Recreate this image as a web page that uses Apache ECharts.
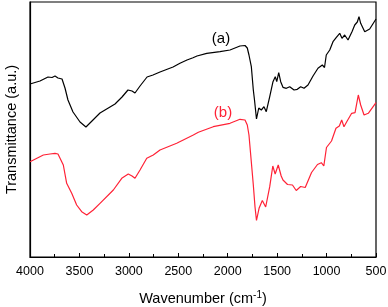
<!DOCTYPE html>
<html>
<head>
<meta charset="utf-8">
<script src="https://cdn.jsdelivr.net/npm/echarts@6/dist/echarts.min.js"></script>
<style>html,body{margin:0;padding:0;background:#fff}#c{width:388px;height:307px}</style>
</head>
<body>
<div id="c"></div>
<script>
// Wavenumber (cm-1) and transmittance (a.u.)
const wnA = [4000,3899,3818,3777,3747,3717,3676,3646,3616,3565,3494,3434,3363,3292,3140,3069,3009,2968,2938,2887,2816,2756,2685,2553,2483,2412,2351,2311,2212,2078,1977,1876,1825,1802,1785,1761,1741,1729,1709,1686,1660,1633,1610,1575,1542,1519,1504,1484,1464,1441,1407,1373,1329,1296,1262,1228,1188,1137,1087,1043,1021,1003,968,935,901,867,844,817,783,743,715,689,672,655,614,564,500];
const tA  = [173,176,180,179.5,181,179,178,169,157,145,135,130,137,144,153,160,167,166,164,171,180,182,185,190,193.7,197,199.3,201,203.7,205.3,207,211,211.5,209,202,190.3,167,157,138,149,147,150.3,145.3,160.3,175.3,180.3,175.3,184.3,175.3,169.7,168.7,170.3,167,167.7,170.3,168.7,172,181,188.7,192,189.5,202,207,215.3,219.7,223.7,218.7,222,217,225.3,232,235,240.3,233.7,225.3,228,238];
const wnB = [4000,3865,3798,3747,3717,3697,3663,3629,3578,3528,3477,3426,3360,3292,3157,3072,3006,2968,2938,2887,2819,2753,2685,2516,2348,2297,2146,1977,1876,1825,1802,1785,1757,1741,1724,1709,1683,1650,1616,1575,1544,1520,1489,1459,1441,1395,1345,1307,1262,1216,1152,1092,1053,1028,1001,950,905,871,847,824,796,746,712,679,655,621,578,500];
const tB  = [95.3,102,103,103.7,103,101,92,73.7,63.7,52,45.3,42,47,53.7,67,78.7,83,81,78.7,87,98.7,102,107,113.7,122,124.7,130.3,133.7,137.7,137,132,122,90.3,72,50.3,36.5,48.7,56.5,50,70.3,91,83,92,81,77,72.5,72,66.5,70.5,69.5,84.5,92.5,94.3,91,109.5,116,128.7,131,137,130.3,135.3,143.7,144.3,162,152,142,143.7,154.3];
const xTicks = [4000,3500,3000,2500,2000,1500,1000,500];
const labelA = {text:'(a)', wn:2068, t:218};
const labelB = {text:'(b)', wn:2048, t:144};

const FONT = '"Liberation Sans", Arial, sans-serif';
const RED = '#ff2236';
const chart = echarts.init(document.getElementById('c'), null, {renderer:'canvas'});
const zip = (a,b)=>a.map((v,i)=>[v,b[i]]);
chart.setOption({
  animation:false,
  backgroundColor:'#fff',
  grid:{left:30,right:12,top:2,bottom:50,outerBoundsMode:'none',containLabel:false,show:true,borderColor:'#000',borderWidth:1.2,backgroundColor:'transparent'},
  xAxis:{
    type:'value', inverse:true, min:500, max:4000, interval:500,
    axisLine:{lineStyle:{color:'#000',width:1.2}},
    axisTick:{inside:true,length:4,lineStyle:{color:'#000',width:1}},
    minorTick:{show:true,splitNumber:2,length:3,lineStyle:{color:'#000',width:1}},
    splitLine:{show:false},
    axisLabel:{color:'#000',fontSize:12.5,fontFamily:FONT,margin:8,hideOverlap:false,
      formatter:v=>xTicks.includes(v)?String(v):''},
    name:'Wavenumber (cm{sup|-1})', nameLocation:'middle', nameGap:33,
    nameTextStyle:{color:'#000',fontSize:14.5,fontFamily:FONT,lineHeight:18,
      rich:{sup:{fontSize:10,fontFamily:FONT,color:'#000',verticalAlign:'top',lineHeight:10,padding:[0,0,8,0]}}}
  },
  yAxis:{
    type:'value', min:0, max:255,
    axisLine:{show:true,lineStyle:{color:'#000',width:1.2}},
    axisTick:{show:false}, axisLabel:{show:false}, splitLine:{show:false},
    name:'Transmittance (a.u.)', nameLocation:'middle', nameGap:11,
    nameTextStyle:{color:'#000',fontSize:14.5,fontFamily:FONT}
  },
  series:[
    {type:'line', data:zip(wnA,tA), showSymbol:false, symbol:'none',
     lineStyle:{color:'#000',width:1.2}, z:3,
     markPoint:{symbol:'circle',symbolSize:0,data:[{coord:[labelA.wn,labelA.t]}],
       label:{show:true,formatter:labelA.text,color:'#000',fontSize:15,fontFamily:FONT,position:'inside'}}},
    {type:'line', data:zip(wnB,tB), showSymbol:false, symbol:'none',
     lineStyle:{color:RED,width:1.2}, z:2,
     markPoint:{symbol:'circle',symbolSize:0,data:[{coord:[labelB.wn,labelB.t]}],
       label:{show:true,formatter:labelB.text,color:RED,fontSize:15,fontFamily:FONT,position:'inside'}}}
  ]
});
</script>
</body>
</html>
